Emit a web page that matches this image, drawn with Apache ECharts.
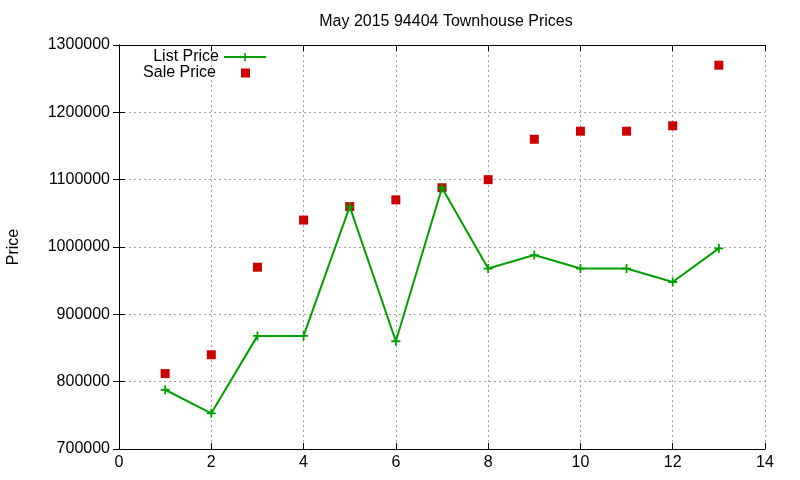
<!DOCTYPE html>
<html>
<head>
<meta charset="utf-8">
<title>May 2015 94404 Townhouse Prices</title>
<script src="https://cdn.jsdelivr.net/npm/echarts@6/dist/echarts.min.js"></script>
<style>
	html, body { margin: 0; padding: 0; background: #fff; }
	#chart { width: 800px; height: 480px; }
</style>
</head>
<body>
<div id="chart"></div>
<script>
// data
var months = [1, 2, 3, 4, 5, 6, 7, 8, 9, 10, 11, 12, 13];
var listPrice = [788000, 753000, 868000, 868000, 1060000, 860000, 1088000, 968000, 988000, 968000, 968000, 948000, 998000];
var salePrice = [812000, 840000, 970000, 1040000, 1060000, 1070000, 1088000, 1100000, 1160000, 1172000, 1172000, 1180000, 1270000];

var plus = 'path://M4 0H6V4H10V6H6V10H4V6H0V4H4Z';
var font = 'Liberation Sans';

function pairs(xs, ys) {
	var out = [];
	for (var i = 0; i < xs.length; i++) {
		out.push([xs[i], ys[i]]);
	}
	return out;
}

var gridLine = { show: true, lineStyle: { color: '#a0a0a0', type: [2, 3], width: 1 } };
var axisLine = { show: true, lineStyle: { color: '#000', width: 1 } };
var tick = { show: true, inside: true, length: 6, lineStyle: { color: '#000' } };

var chart = echarts.init(document.getElementById('chart'));
chart.setOption({
	animation: false,
	textStyle: { fontFamily: font },
	title: {
		text: 'May 2015 94404 Townhouse Prices',
		left: 441,
		textAlign: 'center',
		top: 9,
		textStyle: { fontFamily: font, fontSize: 16, fontWeight: 'normal', color: '#000' }
	},
	legend: [
		{
			data: ['List Price'],
			right: 528,
			top: 44,
			align: 'right',
			itemWidth: 42,
			itemHeight: 10,
			textStyle: { fontFamily: font, fontSize: 16, color: '#000' }
		},
		{
			data: [{ name: 'Sale Price', icon: 'rect' }],
			right: 545,
			top: 60,
			align: 'right',
			itemWidth: 9,
			itemHeight: 9,
			textStyle: { fontFamily: font, fontSize: 16, color: '#000', padding: [0, 20, 0, 0] }
		}
	],
	grid: { left: 119, right: 35, top: 45, bottom: 31, outerBoundsMode: 'none' },
	xAxis: [
		{
			type: 'value',
			min: 0,
			max: 14,
			interval: 2,
			axisLine: axisLine,
			axisTick: tick,
			splitLine: gridLine,
			axisLabel: { fontFamily: font, fontSize: 16, color: '#000', margin: 6 }
		},
		{
			type: 'value',
			position: 'top',
			min: 0,
			max: 14,
			interval: 2,
			axisLine: axisLine,
			axisTick: tick,
			splitLine: { show: false },
			axisLabel: { show: false }
		}
	],
	yAxis: [
		{
			type: 'value',
			min: 700000,
			max: 1300000,
			interval: 100000,
			name: 'Price',
			nameLocation: 'middle',
			nameGap: 97,
			nameTextStyle: { fontFamily: font, fontSize: 16, color: '#000' },
			axisLine: axisLine,
			axisTick: tick,
			splitLine: gridLine,
			axisLabel: {
				fontFamily: font,
				fontSize: 16,
				color: '#000',
				margin: 9,
				formatter: function (v) { return String(v); }
			}
		},
		{
			type: 'value',
			position: 'right',
			min: 700000,
			max: 1300000,
			interval: 100000,
			axisLine: axisLine,
			axisTick: tick,
			splitLine: { show: false },
			axisLabel: { show: false }
		}
	],
	series: [
		{
			name: 'List Price',
			type: 'line',
			data: pairs(months, listPrice),
			symbol: plus,
			symbolSize: 9,
			showAllSymbol: true,
			color: '#00a000',
			lineStyle: { color: '#00a000', width: 2 },
			itemStyle: { color: '#00a000' },
			z: 3
		},
		{
			name: 'Sale Price',
			type: 'scatter',
			data: pairs(months, salePrice),
			symbol: 'rect',
			symbolSize: 9,
			color: '#cc0000',
			itemStyle: { color: '#cc0000', opacity: 1 },
			z: 2
		}
	]
});
</script>
</body>
</html>
